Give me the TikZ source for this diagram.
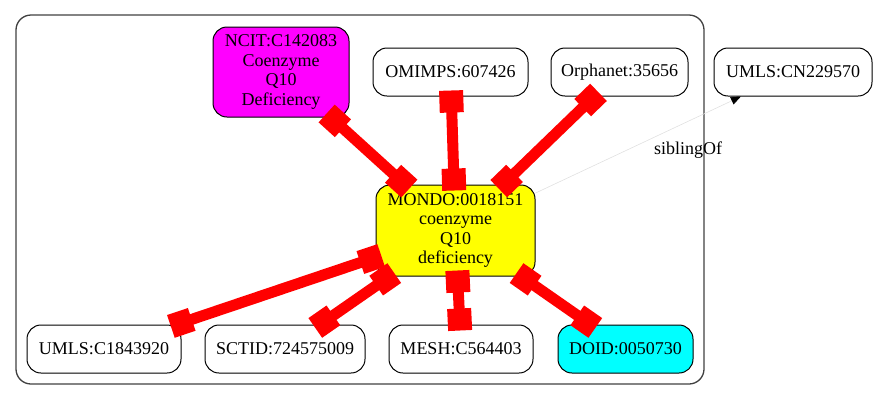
\documentclass[tikz,border=0pt]{standalone}
\usepackage{fontspec}
\setmainfont{Liberation Serif}
\usepackage{xcolor}
\usepackage{tikz}
\usetikzlibrary{positioning}
\usetikzlibrary{arrows.meta}
\definecolor{gvmagenta}{RGB}{255,0,255}
\definecolor{gvyellow}{RGB}{255,255,0}
\definecolor{gvcyan}{RGB}{0,255,255}
\definecolor{gvred}{RGB}{255,0,0}

\begin{document}
\begin{tikzpicture}[x=1pt,y=-1pt,
    term/.style={draw=black, fill=white, rounded corners=14pt, line width=1pt,
        minimum height=48pt, inner sep=0pt, align=center,
        font=\fontsize{18}{19.5}\selectfont},
    xref/.style={draw=gvred, line width=11pt,
        {Square[length=22pt,width=24pt]}-{Square[length=22pt,width=24pt]},
        shorten <=-6pt, shorten >=-6pt},
    sib/.style={draw=black!12, line width=0.6pt,
        -{Triangle[length=10pt,width=8pt,color=black]}}
]
    \useasboundingbox (0,0) rectangle (877,400);

    % cluster
    \draw[draw=black!75, line width=1.3pt, rounded corners=15pt] (16,15) rectangle (704,384);

    \node[term, fill=gvmagenta, minimum width=136pt, minimum height=90pt] (ncit) at (281,72)
        {NCIT:C142083\\Coenzyme\\Q10\\Deficiency};
    \node[term, minimum width=155pt] (omimps) at (450.5,72) {OMIMPS:607426};
    \node[term, minimum width=137pt] (orpha) at (619.5,72) {Orphanet:35656};
    \node[term, minimum width=158pt] (umlscn) at (793,72) {UMLS:CN229570};

    \node[term, fill=gvyellow, minimum width=159pt, minimum height=91pt] (mondo) at (455.5,230.5)
        {MONDO:0018151\\coenzyme\\Q10\\deficiency};

    \node[term, minimum width=154pt] (umlsc) at (104,349) {UMLS:C1843920};
    \node[term, minimum width=160pt] (sctid) at (285,349) {SCTID:724575009};
    \node[term, minimum width=144pt] (mesh) at (461,349) {MESH:C564403};
    \node[term, fill=gvcyan, minimum width=135pt] (doid) at (625.5,349) {DOID:0050730};

    \node[font=\fontsize{18}{19.5}\selectfont] (siblab) at (688,150) {siblingOf};

    \draw[sib] (mondo) -- (umlscn);

    \draw[xref] (ncit) -- (mondo);
    \draw[xref] (omimps) -- (mondo);
    \draw[xref] (orpha) -- (mondo);
    \draw[xref] (umlsc) -- (mondo);
    \draw[xref] (sctid) -- (mondo);
    \draw[xref] (mesh) -- (mondo);
    \draw[xref] (doid) -- (mondo);
\end{tikzpicture}
\end{document}
